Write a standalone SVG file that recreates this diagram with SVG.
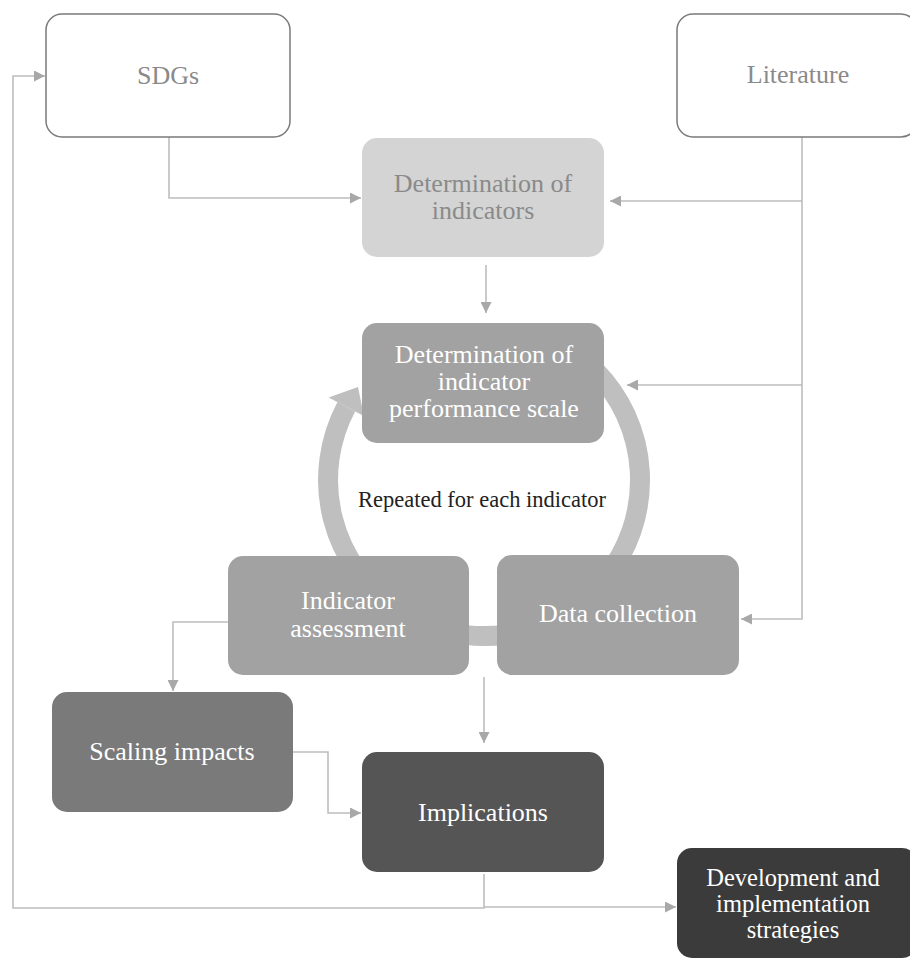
<svg xmlns="http://www.w3.org/2000/svg" width="910" height="964" viewBox="0 0 910 964">
<defs>
<style>
text{font-family:"Liberation Serif","Times New Roman",serif;font-size:26px;text-anchor:middle}
.w{fill:#ffffff}
.g{fill:#8a8a8a}
.out{fill:#ffffff;stroke:#7a7a7a;stroke-width:1.5}
.con{fill:none;stroke:#bdbdbd;stroke-width:1.6}
</style>
<marker id="ah" markerUnits="userSpaceOnUse" markerWidth="11" markerHeight="11" refX="10" refY="5" orient="auto" viewBox="0 0 10 10">
<path d="M0,0 L10,5 L0,10 z" fill="#a8a8a8"/>
</marker>
</defs>
<rect width="910" height="964" fill="#ffffff"/>
<g id="cycle">
<path d="M594.3,369.7 A156,156 0 1 1 346.3,406.8" fill="none" stroke="#bfbfbf" stroke-width="20"/>
<polygon points="328.6,397.4 358,387 363.9,416.1" fill="#bfbfbf"/>
</g>
<g id="connectors">
<path class="con" d="M169,137 V198 H361" marker-end="url(#ah)"/>
<path class="con" d="M802,137 V619 H741" marker-end="url(#ah)"/>
<path class="con" d="M802,201 H610" marker-end="url(#ah)"/>
<path class="con" d="M802,385 H627" marker-end="url(#ah)"/>
<path class="con" d="M486,265 V313" marker-end="url(#ah)"/>
<path class="con" d="M228,622 H173 V691" marker-end="url(#ah)"/>
<path class="con" d="M484,677 V743" marker-end="url(#ah)"/>
<path class="con" d="M293,752 H328 V813 H361" marker-end="url(#ah)"/>
<path class="con" d="M484,874 V908 H13 V76 H45" marker-end="url(#ah)"/>
<path class="con" d="M484,907 H676" marker-end="url(#ah)"/>
</g>
<g id="sdgs">
<rect class="out" x="46" y="14" width="244" height="123" rx="16"/>
<text class="g" x="168" y="84">SDGs</text>
</g>
<g id="literature">
<rect class="out" x="677" y="14" width="240" height="123" rx="16"/>
<text class="g" x="798" y="83">Literature</text>
</g>
<g id="det-indicators">
<rect x="362" y="138" width="242" height="119" rx="15" fill="#d4d4d4"/>
<text class="g" x="483" y="192">Determination of</text>
<text class="g" x="483" y="219">indicators</text>
</g>
<g id="det-scale">
<rect x="362" y="323" width="242" height="120" rx="15" fill="#a2a2a2"/>
<text class="w" x="484" y="363">Determination of</text>
<text class="w" x="484" y="390">indicator</text>
<text class="w" x="484" y="417">performance scale</text>
</g>
<text x="482" y="507" style="font-size:22.5px;fill:#222222">Repeated for each indicator</text>
<g id="indicator-assessment">
<rect x="228" y="556" width="241" height="119" rx="15" fill="#a2a2a2"/>
<text class="w" x="348" y="609">Indicator</text>
<text class="w" x="348" y="637">assessment</text>
</g>
<g id="data-collection">
<rect x="497" y="555" width="242" height="120" rx="15" fill="#a2a2a2"/>
<text class="w" x="618" y="622">Data collection</text>
</g>
<g id="scaling">
<rect x="52" y="692" width="241" height="120" rx="15" fill="#7a7a7a"/>
<text class="w" x="172" y="760">Scaling impacts</text>
</g>
<g id="implications">
<rect x="362" y="752" width="242" height="120" rx="15" fill="#555555"/>
<text class="w" x="483" y="821">Implications</text>
</g>
<g id="development">
<rect x="677" y="848" width="240" height="110" rx="15" fill="#3b3b3b"/>
<text class="w" x="793" y="886" style="font-size:24.5px">Development and</text>
<text class="w" x="793" y="912" style="font-size:24.5px">implementation</text>
<text class="w" x="793" y="938" style="font-size:24.5px">strategies</text>
</g>
</svg>
